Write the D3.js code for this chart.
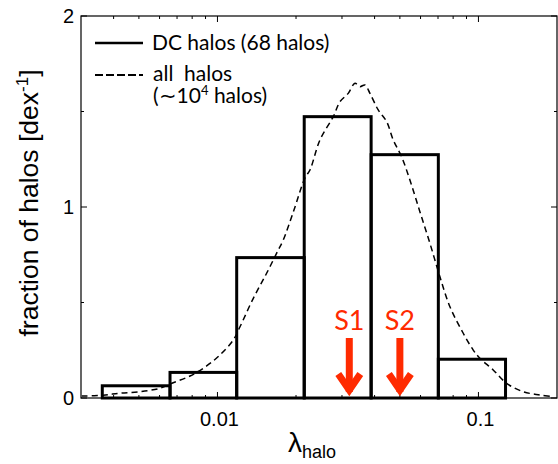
<!DOCTYPE html>
<html>
<head>
<meta charset="utf-8">
<script src="https://cdn.jsdelivr.net/npm/d3@7"></script>
<style>
body { margin: 0; background: #fff; }
</style>
</head>
<body>
<div id="chart"></div>
<script>
// data
var binEdges = [0.00362, 0.00658, 0.01185, 0.0215, 0.0388, 0.0702, 0.127];
var binHeights = [0.064, 0.134, 0.735, 1.473, 1.274, 0.203];

var allLambda = [0.00302, 0.00365, 0.00423, 0.00505, 0.00602, 0.00677, 0.00785, 0.00909, 0.01022, 0.0115,
                 0.0122, 0.01372, 0.01543, 0.0171, 0.01787, 0.01964, 0.02164, 0.02262, 0.0247, 0.02778,
                 0.02946, 0.03171, 0.03363, 0.03516, 0.03673, 0.0384, 0.04131, 0.04449, 0.04716, 0.05077,
                 0.05463, 0.0597, 0.06518, 0.07118, 0.07776, 0.08746, 0.09552, 0.1013, 0.1139, 0.1282,
                 0.1484, 0.172, 0.1934];
var allFrac = [0.01, 0.015, 0.025, 0.033, 0.051, 0.08, 0.115, 0.168, 0.225, 0.304,
               0.373, 0.522, 0.653, 0.775, 0.827, 0.984, 1.152, 1.194, 1.351, 1.473,
               1.551, 1.595, 1.648, 1.63, 1.639, 1.595, 1.508, 1.447, 1.351, 1.263,
               1.141, 0.974, 0.81, 0.635, 0.478, 0.339, 0.251, 0.208, 0.147, 0.077,
               0.033, 0.016, 0.007];

var markers = ["S1", "S2"];
var markerLambda = [0.032, 0.05];

var xMajor = [0.01, 0.1];
var xMajorLabels = ["0.01", "0.1"];
var yMajor = [0, 1, 2];
var yMinor = [0.5, 1.5];

var w = 558;
var h = 464;
var pl = 81, pr = 557, pt = 16, pb = 398;

var x = d3.scaleLog().domain([0.003, 0.2]).range([pl, pr]);
var y = d3.scaleLinear().domain([0, 2]).range([pb, pt]);

var svg = d3.select("#chart")
            .append("svg")
            .attr("width", w)
            .attr("height", h)
            .style("font-family", "'Liberation Sans', Arial, sans-serif");

// frame
svg.append("rect")
    .attr("x", pl).attr("y", pt)
    .attr("width", pr - pl).attr("height", pb - pt)
    .attr("fill", "none").attr("stroke", "#000").attr("stroke-width", 1.2);

// x ticks (log minor ticks), bottom and top, pointing inward
var xTicks = x.ticks().filter(function(d){ return d > 0.003 && d < 0.2; });
var isMajor = function(d){ return xMajor.some(function(m){ return Math.abs(d - m) / m < 1e-6; }); };

svg.selectAll(".xtb")
    .data(xTicks).enter().append("line")
    .attr("x1", function(d){ return x(d); }).attr("x2", function(d){ return x(d); })
    .attr("y1", pb).attr("y2", function(d){ return pb - (isMajor(d) ? 6 : 3); })
    .attr("stroke", "#000").attr("stroke-width", 1);
svg.selectAll(".xtt")
    .data(xTicks).enter().append("line")
    .attr("x1", function(d){ return x(d); }).attr("x2", function(d){ return x(d); })
    .attr("y1", pt).attr("y2", function(d){ return pt + (isMajor(d) ? 6 : 3); })
    .attr("stroke", "#000").attr("stroke-width", 1);

svg.selectAll(".xlab")
    .data(xMajor).enter().append("text")
    .attr("x", function(d){ return x(d) + 2; })
    .attr("y", 426)
    .attr("text-anchor", "middle")
    .attr("font-size", 20)
    .text(function(d, i){ return xMajorLabels[i]; });

// y ticks, left and right
var yAll = yMajor.concat(yMinor);
svg.selectAll(".ytl")
    .data(yAll).enter().append("line")
    .attr("x1", pl).attr("x2", function(d){ return pl + (yMajor.indexOf(d) >= 0 ? 6 : 3); })
    .attr("y1", function(d){ return y(d); }).attr("y2", function(d){ return y(d); })
    .attr("stroke", "#000");
svg.selectAll(".ytr")
    .data(yAll).enter().append("line")
    .attr("x1", pr).attr("x2", function(d){ return pr - (yMajor.indexOf(d) >= 0 ? 6 : 3); })
    .attr("y1", function(d){ return y(d); }).attr("y2", function(d){ return y(d); })
    .attr("stroke", "#000");

svg.selectAll(".ylab")
    .data(yMajor).enter().append("text")
    .attr("x", 74)
    .attr("y", function(d){ return y(d) + 7; })
    .attr("text-anchor", "end")
    .attr("font-size", 20)
    .text(function(d){ return d; });

// axis titles
var yt = svg.append("text")
    .attr("transform", "translate(38,203) rotate(-90)")
    .attr("text-anchor", "middle")
    .attr("font-size", 26.5);
yt.append("tspan").text("fraction of halos [dex");
yt.append("tspan").attr("dy", -10).attr("font-size", 17).text("-1");
yt.append("tspan").attr("dy", 10).text("]");

var xt = svg.append("text")
    .attr("x", 288).attr("y", 452)
    .attr("font-size", 28);
xt.append("tspan").text("λ");
xt.append("tspan").attr("dy", 6).attr("font-size", 18).text("halo");

// dashed curve: all halos
var line = d3.line()
    .x(function(d){ return x(d[0]); })
    .y(function(d){ return y(d[1]); })
    .curve(d3.curveCatmullRom);

svg.append("path")
    .datum(allLambda.map(function(d, i){ return [d, allFrac[i]]; }))
    .attr("d", line)
    .attr("fill", "none")
    .attr("stroke", "#000")
    .attr("stroke-width", 1.5)
    .attr("stroke-dasharray", "6,4");

// histogram: DC halos
svg.selectAll(".bar")
    .data(binHeights).enter().append("rect")
    .attr("x", function(d, i){ return x(binEdges[i]); })
    .attr("width", function(d, i){ return x(binEdges[i + 1]) - x(binEdges[i]); })
    .attr("y", function(d){ return y(d); })
    .attr("height", function(d){ return y(0) - y(d); })
    .attr("fill", "none")
    .attr("stroke", "#000")
    .attr("stroke-width", 3);

// S1 / S2 markers
var red = "#ff2a00";
markers.forEach(function(m, i){
    var cx = x(markerLambda[i]);
    svg.append("text")
        .attr("x", cx).attr("y", 330)
        .attr("text-anchor", "middle")
        .attr("font-family", "Lato, 'Open Sans', sans-serif")
        .attr("font-size", 27)
        .attr("fill", red)
        .text(m);
    svg.append("line")
        .attr("x1", cx).attr("x2", cx)
        .attr("y1", 338).attr("y2", 392)
        .attr("stroke", red).attr("stroke-width", 7);
    svg.append("path")
        .attr("d", "M" + (cx - 11) + ",374 L" + cx + ",390 L" + (cx + 11) + ",374")
        .attr("fill", "none")
        .attr("stroke", red)
        .attr("stroke-width", 7)
        .attr("stroke-linejoin", "miter")
        .attr("stroke-miterlimit", 10);
});

// legend
var lg = svg.append("g").attr("font-family", "Lato, 'Open Sans', sans-serif").attr("font-size", 21);
lg.append("line").attr("x1", 95).attr("x2", 143).attr("y1", 43).attr("y2", 43)
    .attr("stroke", "#000").attr("stroke-width", 2.5);
lg.append("text").attr("x", 152).attr("y", 50).text("DC halos (68 halos)");
lg.append("line").attr("x1", 95).attr("x2", 143).attr("y1", 75).attr("y2", 75)
    .attr("stroke", "#000").attr("stroke-width", 2.2).attr("stroke-dasharray", "8,3");
lg.append("text").attr("x", 153).attr("y", 81).attr("xml:space", "preserve").text("all  halos");
var l3 = lg.append("text").attr("x", 153).attr("y", 103);
l3.append("tspan").text("(\u223C10");
l3.append("tspan").attr("dy", -8).attr("font-size", 13).text("4");
l3.append("tspan").attr("dy", 8).text(" halos)");
</script>
</body>
</html>
